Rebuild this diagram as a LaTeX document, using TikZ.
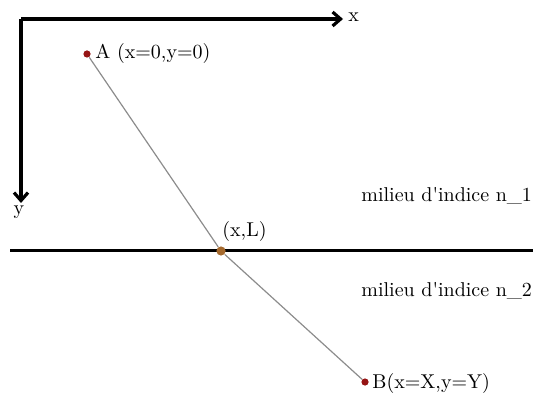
\documentclass[tikz,border=0pt]{standalone}
\usepackage{tikz}
\usetikzlibrary{arrows.meta, positioning}

\begin{document}
\begin{tikzpicture}[
  x=0.5pt, y=-0.5pt,
  execute at begin picture={
    \definecolor{pointred}{RGB}{150,20,20}
    \definecolor{pointbrown}{RGB}{165,105,45}
  },
  font=\normalsize,
  axis/.style={line width=1.6pt, -{Straight Barb[length=4pt, width=7pt, line width=1.6pt]}},
  interface/.style={line width=1.5pt},
  ray/.style={draw=black!45, line width=0.6pt},
  point/.style={circle, fill=pointred, inner sep=0pt, minimum size=3.6pt},
  label/.style={inner sep=1pt}
]
\useasboundingbox (0,0) rectangle (533,394);

% axes
\coordinate (origin) at (21,19);
\coordinate (xend) at (343,19);
\coordinate (yend) at (21,203);
\draw[axis] (origin) -- (xend);
\draw[axis] (origin) -- (yend);
\node[label, anchor=west] (xlab) at (346,17) {x};
\node[label, anchor=north] (ylab) at (19,203) {y};

% interface between the two media
\coordinate (left) at (10,251);
\coordinate (right) at (533,251);
\draw[interface] (left) -- (right);

\node[label, anchor=west] (medium1) at (359,196) {milieu d\textquotesingle indice n\_1};
\node[label, anchor=west] (medium2) at (359,291) {milieu d\textquotesingle indice n\_2};

% points and ray
\node[point] (A) at (87,54) {};
\node[point, fill=pointbrown, minimum size=4.6pt] (I) at (221,251) {};
\node[point] (B) at (365,382) {};
\draw[ray] (A) -- (I);
\draw[ray] (I) -- (B);

\node[label, anchor=west] (Alab) at (93,54) {A (x=0,y=0)};
\node[label, anchor=south west] (Ilab) at (220,244) {(x,L)};
\node[label, anchor=west] (Blab) at (370,383) {B(x=X,y=Y)};

\end{tikzpicture}
\end{document}
